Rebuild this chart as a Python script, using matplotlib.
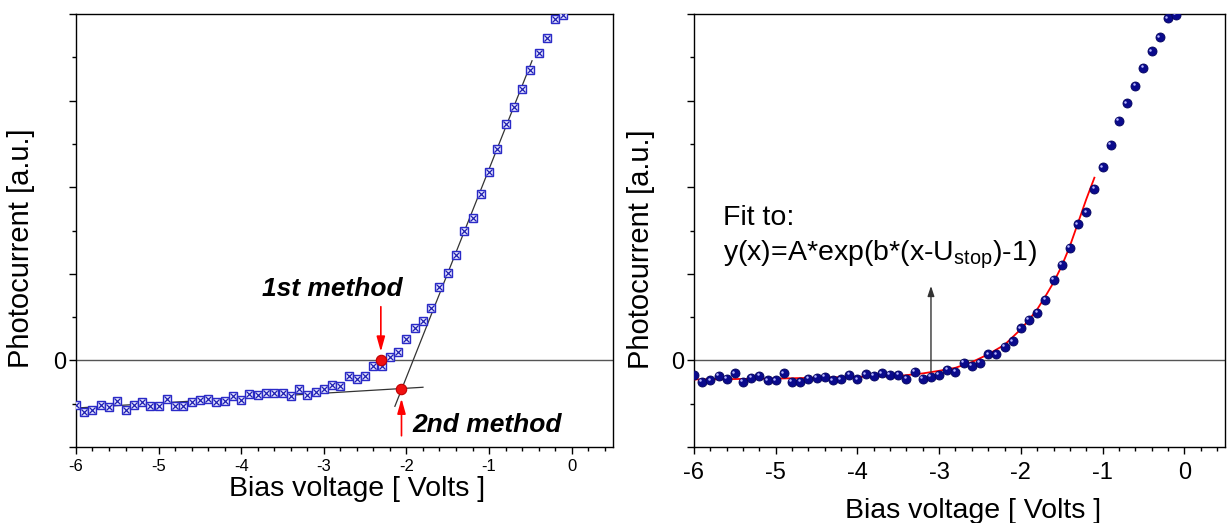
import matplotlib
matplotlib.use('Agg')
import matplotlib.pyplot as plt
import matplotlib.transforms as mtransforms
from matplotlib.ticker import MultipleLocator, FixedLocator, FixedFormatter

plt.rcParams['font.family'] = ['Liberation Sans', 'DejaVu Sans']

# bias voltage points (same grid in both panels)
bias = [-6.0, -5.9, -5.8, -5.7, -5.6, -5.5, -5.4, -5.3, -5.2, -5.1,
        -5.0, -4.9, -4.8, -4.7, -4.6, -4.5, -4.4, -4.3, -4.2, -4.1,
        -4.0, -3.9, -3.8, -3.7, -3.6, -3.5, -3.4, -3.3, -3.2, -3.1,
        -3.0, -2.9, -2.8, -2.7, -2.6, -2.5, -2.4, -2.3, -2.2, -2.1,
        -2.0, -1.9, -1.8, -1.7, -1.6, -1.5, -1.4, -1.3, -1.2, -1.1,
        -1.0, -0.9, -0.8, -0.7, -0.6, -0.5, -0.4, -0.3, -0.2, -0.1]

left_current = [-0.52, -0.60, -0.57, -0.52, -0.54, -0.47, -0.57, -0.51, -0.48, -0.53,
                -0.53, -0.45, -0.53, -0.53, -0.48, -0.46, -0.45, -0.48, -0.47, -0.41,
                -0.46, -0.39, -0.40, -0.38, -0.38, -0.38, -0.41, -0.33, -0.40, -0.37,
                -0.33, -0.28, -0.30, -0.18, -0.22, -0.18, -0.07, -0.07, 0.04, 0.10,
                0.25, 0.37, 0.45, 0.60, 0.85, 1.01, 1.22, 1.49, 1.64, 1.92,
                2.18, 2.44, 2.73, 2.93, 3.13, 3.35, 3.55, 3.72, 3.94, 3.99]

right_current = [-0.17, -0.25, -0.23, -0.18, -0.21, -0.15, -0.25, -0.20, -0.18, -0.23,
                 -0.23, -0.15, -0.25, -0.25, -0.21, -0.20, -0.19, -0.23, -0.22, -0.17,
                 -0.22, -0.16, -0.18, -0.15, -0.17, -0.17, -0.21, -0.13, -0.21, -0.19,
                 -0.17, -0.11, -0.13, -0.03, -0.06, -0.03, 0.07, 0.07, 0.16, 0.22,
                 0.37, 0.47, 0.55, 0.70, 0.93, 1.10, 1.30, 1.57, 1.71, 1.98,
                 2.23, 2.49, 2.77, 2.97, 3.17, 3.38, 3.57, 3.73, 3.95, 3.99]

# straight line fits (left panel)
low_fit_x = [-6.0, -1.8]
low_fit_y = [-0.55, -0.31]
steep_fit_x = [-2.14, -0.48]
steep_fit_y = [-0.53, 3.46]

# stopping voltage estimates
method_x = [-2.31, -2.06]
method_y = [0.0, -0.33]

# exponential fit
fit_x = [-6.0, -5.0, -4.0, -3.5, -3.2, -3.0, -2.8, -2.6, -2.4, -2.2,
         -2.0, -1.9, -1.8, -1.7, -1.6, -1.5, -1.4, -1.3, -1.2, -1.1]
fit_y = [-0.22, -0.21, -0.19, -0.18, -0.15, -0.12, -0.085, -0.02, 0.07, 0.18,
         0.36, 0.47, 0.59, 0.74, 0.90, 1.09, 1.32, 1.59, 1.86, 2.11]

xtick_vals = [-6, -5, -4, -3, -2, -1, 0]
xtick_labels = ['-6', '-5', '-4', '-3', '-2', '-1', '0']


def style_axes(ax, xtick_size):
    ax.set_xlim(-6, 0.5)
    ax.set_ylim(-1, 4)
    ax.xaxis.set_major_locator(FixedLocator(xtick_vals))
    ax.xaxis.set_major_formatter(FixedFormatter(xtick_labels))
    ax.xaxis.set_minor_locator(MultipleLocator(0.2))
    ax.yaxis.set_major_locator(MultipleLocator(1))
    ax.yaxis.set_minor_locator(MultipleLocator(0.5))
    ax.set_yticklabels(['' if abs(v) > 1e-9 else '0' for v in ax.get_yticks()])
    ax.tick_params(which='major', direction='out', length=5, width=1)
    ax.tick_params(which='minor', direction='out', length=3, width=1)
    ax.tick_params(axis='x', labelsize=xtick_size)
    ax.tick_params(axis='y', labelsize=17, pad=2)
    for s in ax.spines.values():
        s.set_linewidth(1.0)
    ax.axhline(0, color='#555555', lw=1.0, zorder=1)


fig = plt.figure(figsize=(12.27, 5.23), dpi=100)
ax1 = fig.add_axes([0.0619, 0.1453, 0.4377, 0.8279])
ax2 = fig.add_axes([0.5656, 0.1453, 0.4329, 0.8279])

# ---- left panel ----
style_axes(ax1, 12)
ax1.plot(low_fit_x, low_fit_y, color='#333333', lw=0.9, zorder=2)
ax1.plot(steep_fit_x, steep_fit_y, color='#333333', lw=0.9, zorder=2)
ax1.plot(bias, left_current, 's', ms=5.8, mfc='#e8e8ff', mec='#2a2ac8', mew=1.0, zorder=3)
ax1.plot(bias, left_current, 'x', ms=4.2, color='#2020b0', mew=0.9, zorder=4)
ax1.plot(method_x, method_y, 'o', ms=7.5, mfc='#f01010', mec='#c00000', mew=0.8, zorder=5)

arrow = dict(arrowstyle='-|>,head_width=0.25,head_length=0.9', color='red', lw=1.2,
             shrinkA=0, shrinkB=0)
ax1.annotate('', xy=(method_x[0], 0.10), xytext=(method_x[0], 0.62), arrowprops=arrow)
ax1.annotate('', xy=(method_x[1], -0.44), xytext=(method_x[1], -0.87), arrowprops=arrow)
ax1.text(-3.75, 0.83, '1st method', fontsize=19, fontweight='bold', fontstyle='italic',
         va='center', ha='left')
ax1.text(-1.93, -0.75, '2nd method', fontsize=19, fontweight='bold', fontstyle='italic',
         va='center', ha='left')

ax1.set_xlabel('Bias voltage [ Volts ]', fontsize=20.5)
ax1.set_ylabel('Photocurrent [a.u.]', fontsize=21)
ax1.xaxis.set_label_coords(0.523, -0.067)
ax1.yaxis.set_label_coords(-0.076, 0.46)

# ---- right panel ----
style_axes(ax2, 17)
ax2.plot(fit_x, fit_y, color='red', lw=1.3, zorder=3)
ax2.plot(bias, right_current, 'o', ms=6.5, mfc='#0a0a8c', mec='#05055e', mew=0.6, zorder=4)
shine = mtransforms.offset_copy(ax2.transData, fig=fig, x=-1.2, y=1.2, units='points')
ax2.plot(bias, right_current, 'o', ms=1.8, color='#b8b8ff', mew=0, zorder=5, transform=shine)

ax2.annotate('', xy=(-3.1, 0.86), xytext=(-3.1, -0.13),
             arrowprops=dict(arrowstyle='-|>,head_width=0.2,head_length=0.6',
                             color='#333333', lw=1.0, shrinkA=0, shrinkB=0))
ax2.text(-5.64, 1.65, 'Fit to:', fontsize=20.5, va='center', ha='left')
ax2.text(-5.64, 1.22, r'y(x)=A*exp(b*(x-U$_\mathregular{stop}$)-1)', fontsize=20.5,
         va='center', ha='left')

ax2.set_xlabel('Bias voltage [ Volts ]', fontsize=20.5)
ax2.set_ylabel('Photocurrent [a.u.]', fontsize=21)
ax2.xaxis.set_label_coords(0.526, -0.118)
ax2.yaxis.set_label_coords(-0.073, 0.456)
ax2.tick_params(axis='x', pad=6)

fig.savefig('out.png', dpi=100)
